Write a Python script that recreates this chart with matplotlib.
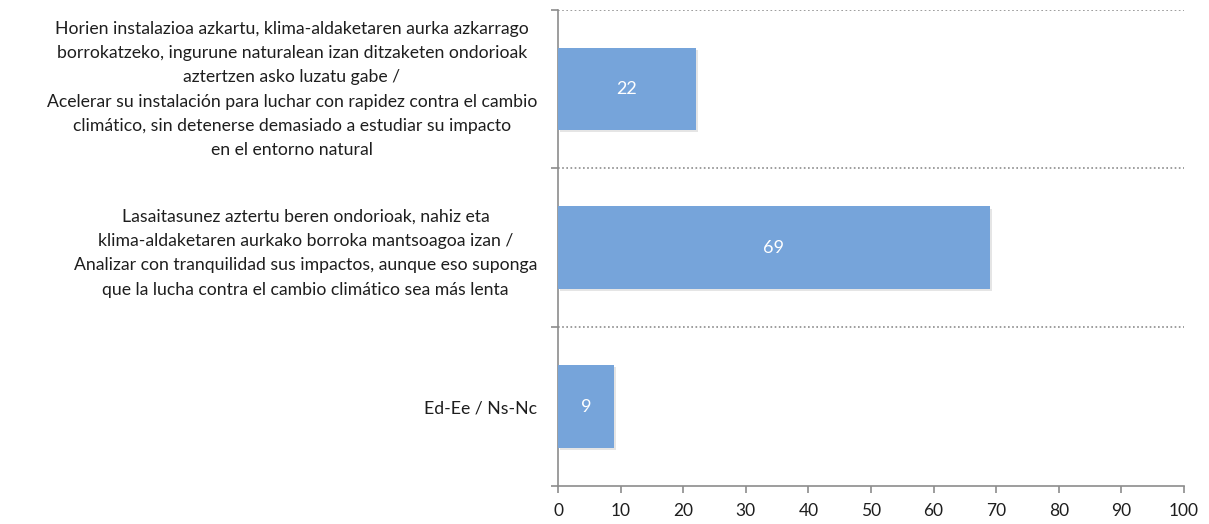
import matplotlib
matplotlib.use("Agg")
import matplotlib.pyplot as plt
import matplotlib.patheffects as pe
import matplotlib.transforms as mtransforms
from matplotlib.ticker import FixedLocator

categories = [
    "Horien instalazioa azkartu, klima-aldaketaren aurka azkarrago\n"
    "borrokatzeko, ingurune naturalean izan ditzaketen ondorioak\n"
    "aztertzen asko luzatu gabe /\n"
    "Acelerar su instalación para luchar con rapidez contra el cambio\n"
    "climático, sin detenerse demasiado a estudiar su impacto\n"
    "en el entorno natural",
    "Lasaitasunez aztertu beren ondorioak, nahiz eta\n"
    "klima-aldaketaren aurkako borroka mantsoagoa izan /\n"
    "Analizar con tranquilidad sus impactos, aunque eso suponga\n"
    "que la lucha contra el cambio climático sea más lenta",
    "Ed-Ee / Ns-Nc",
]
values = [22, 69, 9]
xticks = [0, 10, 20, 30, 40, 50, 60, 70, 80, 90, 100]

plt.rcParams['font.family'] = ['Lato', 'DejaVu Sans']

W, H = 1209, 524
fig = plt.figure(figsize=(W / 100, H / 100), dpi=100)
ax = fig.add_axes([558 / W, 1 - 486 / H, (1184 - 558) / W, (486 - 9.5) / H])

bar_color = "#76A4DA"
ypos = list(range(len(values)))
bars = ax.barh(ypos, values, height=0.52, color=bar_color, zorder=3,
               path_effects=[pe.SimplePatchShadow(offset=(1.5, -1.5), shadow_rgbFace='#000000', alpha=0.10),
                             pe.Normal()])
for y, v in zip(ypos, values):
    ax.text(v / 2, y, str(v), ha='center', va='center', color='white', fontsize=13, zorder=4)

ax.set_xlim(0, 100)
ax.set_ylim(len(values) - 0.5, -0.5)

ax.set_xticks(xticks)
ax.set_xticklabels([str(t) for t in xticks], fontsize=12.5, color='#1e1e1e')
ax.tick_params(axis='x', direction='out', length=5, width=1.2, color='#8c8c8c', pad=7)

ax.set_yticks(ypos)
ax.set_yticklabels(categories, fontsize=12.7, color='#1e1e1e', linespacing=1.63)
ax.tick_params(axis='y', which='major', length=0, pad=15)
for i, lbl in enumerate(ax.get_yticklabels()):
    lbl.set_horizontalalignment('right')
    lbl.set_multialignment('center')
    if i == 0:
        lbl.set_transform(lbl.get_transform() +
                          mtransforms.ScaledTranslation(0, 5 / 100, fig.dpi_scale_trans))

bounds = [-0.5, 0.5, 1.5, 2.5]
ax.yaxis.set_minor_locator(FixedLocator(bounds))
ax.tick_params(axis='y', which='minor', direction='out', length=5, width=1.2, color='#8c8c8c')

for b in bounds[:-1]:
    ax.axhline(b, color='#8c8c8c', linestyle=(0, (1, 1.5)), linewidth=1.2, zorder=1)

for s in ['top', 'right']:
    ax.spines[s].set_visible(False)
for s in ['left', 'bottom']:
    ax.spines[s].set_color('#8c8c8c')
    ax.spines[s].set_linewidth(1.2)

fig.savefig("out.png", dpi=100, facecolor='white')
